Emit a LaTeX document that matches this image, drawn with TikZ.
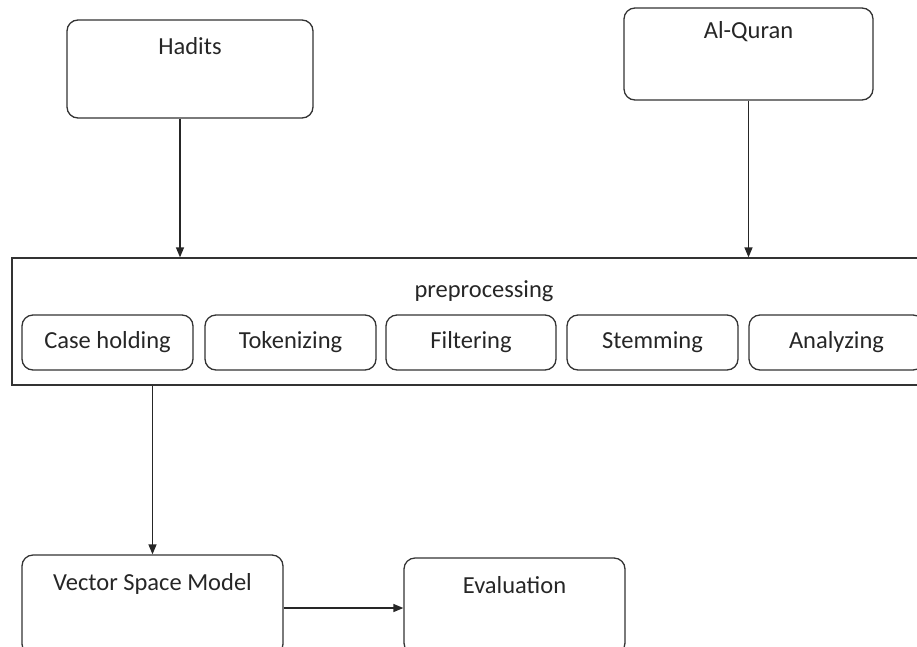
\documentclass[tikz,border=0pt]{standalone}
\usepackage{fontspec}
\setmainfont{Carlito}
\usetikzlibrary{arrows.meta}
\begin{document}
\begin{tikzpicture}[x=1pt,y=-1pt,
  every node/.style={font=\fontsize{24.5}{28}\selectfont, text=black!85},
  rbox/.style={draw=black!80, line width=1.3pt, rounded corners=11pt, inner sep=0pt},
  sbox/.style={draw=black!80, line width=1.3pt, inner sep=0pt},
  arr/.style={draw=black!85, line width=1.3pt, -{Triangle[length=10pt,width=8pt]}},
  ln/.style={draw=black!85, line width=1.3pt}]
\useasboundingbox (0,0) rectangle (917,646);
\clip (0,0) rectangle (917,646);
% top sources
\node[rbox, minimum width=246pt, minimum height=98pt] (hadits) at (190,69) {};
\node (thadits) at ([yshift=-27pt]hadits.north) {Hadits};
\node[rbox, minimum width=249pt, minimum height=92pt] (quran) at (748.5,54) {};
\node (tquran) at ([yshift=-24pt]quran.north) {Al-Quran};
% preprocessing
\node[sbox, minimum width=910pt, minimum height=127pt] (pre) at (467,321.5) {};
\node (tpre) at (484,291) {preprocessing};
\node[rbox, minimum width=171pt, minimum height=55pt] (case) at (107.5,342.5) {Case holding};
\node[rbox, minimum width=171pt, minimum height=55pt] (tok) at (290.5,342.5) {Tokenizing};
\node[rbox, minimum width=170pt, minimum height=55pt] (fil) at (471,342.5) {Filtering};
\node[rbox, minimum width=171pt, minimum height=55pt] (stem) at (652.5,342.5) {Stemming};
\node[rbox, minimum width=175pt, minimum height=55pt] (ana) at (836.5,342.5) {Analyzing};
% bottom
\node[rbox, minimum width=261pt, minimum height=100pt] (vsm) at (152.5,605) {};
\node (tvsm) at ([yshift=-30pt]vsm.north) {Vector Space Model};
\node[rbox, minimum width=221pt, minimum height=96pt] (eval) at (514.5,606) {};
\node (teval) at ([yshift=-28pt]eval.north) {Evaluation};
% connectors
\draw[arr] ([xshift=-10pt]hadits.south) -- ([xshift=-10pt]hadits.south |- pre.north);
\draw[arr] (quran.south) -- (quran.south |- pre.north);
\draw[arr] (pre.south -| vsm.north) -- (vsm.north);
\draw[arr] ([yshift=-3pt]vsm.east) -- ([yshift=-3pt]vsm.east -| eval.west);
\end{tikzpicture}
\end{document}
